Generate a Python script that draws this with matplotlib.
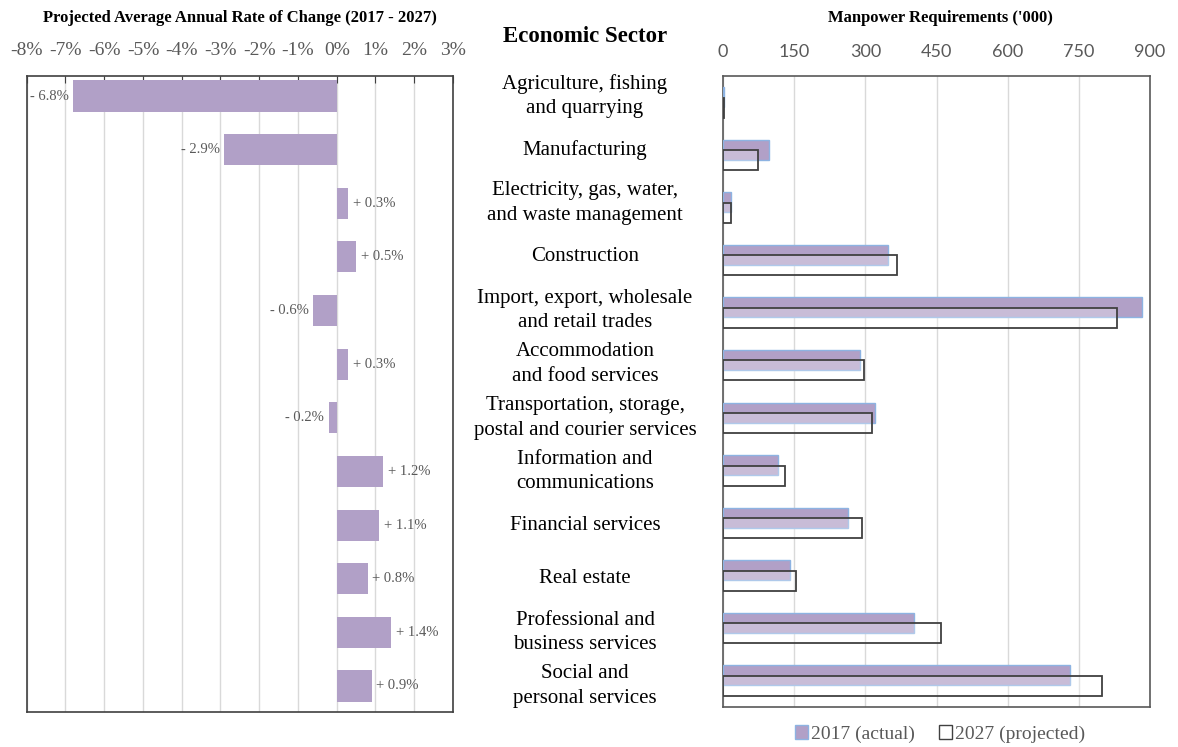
import numpy as np
import matplotlib.pyplot as plt
from matplotlib.patches import Patch
from matplotlib.transforms import blended_transform_factory

plt.rcParams['font.family'] = ['Liberation Serif', 'DejaVu Serif']

sectors = [
    "Agriculture, fishing\nand quarrying",
    "Manufacturing",
    "Electricity, gas, water,\nand waste management",
    "Construction",
    "Import, export, wholesale\nand retail trades",
    "Accommodation\nand food services",
    "Transportation, storage,\npostal and courier services",
    "Information and\ncommunications",
    "Financial services",
    "Real estate",
    "Professional and\nbusiness services",
    "Social and\npersonal services",
]
rate_change = [-6.8, -2.9, 0.3, 0.5, -0.6, 0.3, -0.2, 1.2, 1.1, 0.8, 1.4, 0.9]
actual_2017 = [2, 97, 17, 348, 883, 289, 320, 116, 263, 141, 403, 731]
proj_2027 = [1.5, 74, 16, 367, 830, 297, 314, 131, 293, 154, 460, 799]
rate_ticks = list(range(-8, 4))
mp_ticks = [0, 150, 300, 450, 600, 750, 900]

purple = '#b1a0c7'
grey_txt = '#595959'
W, H = 1178, 747

fig = plt.figure(figsize=(W / 100, H / 100), dpi=100)

# left panel: rate of change
axl = fig.add_axes([26.7 / W, 1 - 712 / H, 426.3 / W, 636 / H])
y = np.arange(len(sectors))
axl.barh(y, rate_change, height=0.58, color=purple, zorder=3)
for yi, v in zip(y, rate_change):
    if v < 0:
        axl.text(v - 0.12, yi, f"- {abs(v):.1f}%", ha='right', va='center',
                 fontsize=10.5, color=grey_txt)
    else:
        axl.text(v + 0.12, yi, f"+ {v:.1f}%", ha='left', va='center',
                 fontsize=10.5, color=grey_txt)
axl.set_xlim(-8, 3)
axl.set_ylim(11 + 26 / 53.6, -20 / 53.6)
axl.set_xticks(rate_ticks)
axl.set_xticklabels([f"{t}%" for t in rate_ticks])
axl.tick_params(axis='x', which='both', bottom=False, top=True, labelbottom=False,
                labeltop=True, direction='in', length=5, color='#404040',
                labelsize=14, labelcolor=grey_txt, pad=12)
axl.set_yticks([])
axl.grid(axis='x', color='#d9d9d9', lw=1, zorder=0)
for s in axl.spines.values():
    s.set_color('#404040')
    s.set_linewidth(1.2)

# right panel: manpower
axr = fig.add_axes([723 / W, 1 - 707 / H, 427 / W, 631 / H])
axr.barh(y - 0.1, actual_2017, height=0.38, color=purple, edgecolor='#8db3e2',
         lw=1, zorder=3)
axr.barh(y + 0.1, proj_2027, height=0.38, facecolor=(1, 1, 1, 0.3),
         edgecolor='#404040', lw=1.3, zorder=4)
axr.set_xlim(0, 900)
axr.set_ylim(11.5, -0.5)
axr.set_xticks(mp_ticks)
axr.tick_params(axis='x', bottom=False, top=False, labelbottom=False, labeltop=True,
                labelsize=13, labelcolor=grey_txt, pad=8)
for lab in axr.get_xticklabels():
    lab.set_fontfamily('Lato')
axr.set_yticks([])
axr.grid(axis='x', color='#d9d9d9', lw=1, zorder=0)
for s in axr.spines.values():
    s.set_color('#595959')
    s.set_linewidth(1.2)

# sector labels in the middle
tr = blended_transform_factory(fig.transFigure, axl.transData)
for yi, name in zip(y, sectors):
    fig.text(585 / W, yi, name, transform=tr, ha='center', va='center',
             fontsize=15, linespacing=1.4)

fig.text(240 / W, 1 - 18 / H, "Projected Average Annual Rate of Change (2017 - 2027)",
         ha='center', va='center', fontsize=12, fontweight='bold')
fig.text(940 / W, 1 - 18 / H, "Manpower Requirements ('000)",
         ha='center', va='center', fontsize=12, fontweight='bold')
fig.text(585 / W, 1 - 37 / H, "Economic Sector",
         ha='center', va='center', fontsize=16.5, fontweight='bold')

handles = [Patch(facecolor=purple, edgecolor='#8db3e2', label='2017 (actual)'),
           Patch(facecolor='white', edgecolor='#404040', label='2027 (projected)')]
leg = fig.legend(handles=handles, loc='center', bbox_to_anchor=(940 / W, 1 - 734 / H),
                 ncol=2, frameon=False, fontsize=14, handlelength=0.7,
                 handleheight=0.7, handletextpad=0.15, columnspacing=1.2)
for t in leg.get_texts():
    t.set_color(grey_txt)

fig.savefig('out.png', dpi=100)
